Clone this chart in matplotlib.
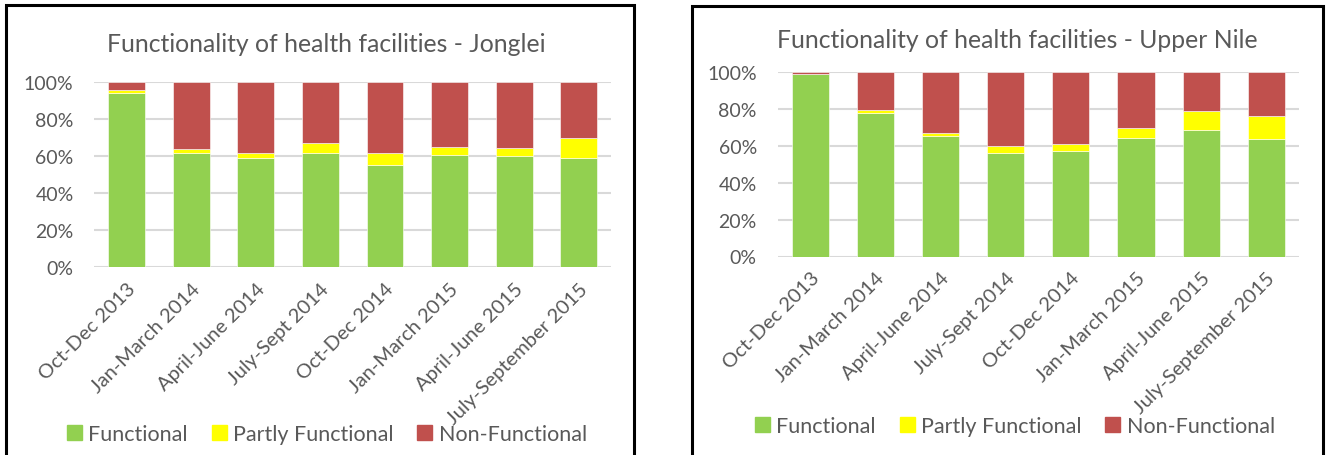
import matplotlib
matplotlib.use("Agg")
import matplotlib.pyplot as plt
from matplotlib.patches import Rectangle, Patch
import numpy as np

plt.rcParams['font.family'] = ['Lato', 'DejaVu Sans']

periods = ["Oct-Dec 2013", "Jan-March 2014", "April-June 2014", "July-Sept 2014",
           "Oct-Dec 2014", "Jan-March 2015", "April-June 2015", "July-September 2015"]

# Jonglei (percent of facilities)
jonglei_functional = [93.9, 61.4, 58.9, 61.4, 55.3, 60.5, 60.1, 58.7]
jonglei_partly = [1.8, 2.2, 2.9, 5.4, 6.1, 4.3, 4.0, 10.8]
jonglei_non = [4.3, 36.4, 38.2, 33.2, 38.6, 35.2, 35.9, 30.5]

# Upper Nile (percent of facilities)
upper_functional = [98.7, 77.7, 65.2, 56.0, 57.1, 64.3, 68.5, 63.6]
upper_partly = [0.0, 1.6, 1.8, 4.0, 3.6, 5.2, 10.2, 12.4]
upper_non = [1.3, 20.7, 33.0, 40.0, 39.3, 30.5, 21.3, 24.0]

series_names = ["Functional", "Partly Functional", "Non-Functional"]
colors = ["#92D050", "#FFFF00", "#C0504D"]
text_grey = "#595959"

W, H = 1326, 456
fig = plt.figure(figsize=(W / 100, H / 100), dpi=100)


def px(x0, y0, x1, y1):
    # pixel box (top-left origin) -> figure fraction rect
    return [x0 / W, 1 - y1 / H, (x1 - x0) / W, (y1 - y0) / H]


def draw_panel(ax, f, p, n, title, title_xy, legend_xy):
    x = np.arange(len(periods))
    f = np.array(f)
    p = np.array(p)
    n = np.array(n)
    for vals, bottom, c, name in [(f, 0, colors[0], series_names[0]),
                                  (p, f, colors[1], series_names[1]),
                                  (n, f + p, colors[2], series_names[2])]:
        ax.bar(x, vals, bottom=bottom, width=0.57, color=c, edgecolor="white",
               linewidth=0.4, label=name, zorder=3)
    ax.set_xlim(-0.5, len(periods) - 0.5)
    ax.set_ylim(0, 100)
    ax.set_yticks(np.arange(0, 101, 20))
    ax.set_yticklabels([f"{v}%" for v in range(0, 101, 20)])
    ax.yaxis.grid(True, color="#D9D9D9", linewidth=1.5, zorder=0)
    ax.set_axisbelow(True)
    for s in ax.spines.values():
        s.set_visible(False)
    ax.tick_params(axis="both", length=0, colors=text_grey)
    ax.tick_params(axis="y", pad=15, labelsize=14)
    ax.set_xticks(x)
    ax.set_xticklabels(periods, rotation=45, ha="right", va="top",
                       rotation_mode="anchor")
    ax.tick_params(axis="x", pad=9, labelsize=14.5)
    fig.text(title_xy[0] / W, 1 - title_xy[1] / H, title, ha="center", va="center",
             fontsize=17.8, color=text_grey)
    handles = [Patch(color=c, label=nm) for c, nm in zip(colors, series_names)]
    fig.legend(handles=handles, loc="center", ncol=3, frameon=False,
               bbox_to_anchor=(legend_xy[0] / W, 1 - legend_xy[1] / H),
               fontsize=15.5, labelcolor=text_grey, handlelength=0.7,
               handleheight=0.7, handletextpad=0.3, columnspacing=1.1)


ax1 = fig.add_axes(px(94.4, 82.7, 611.1, 268.3))
draw_panel(ax1, jonglei_functional, jonglei_partly, jonglei_non,
           "Functionality of health facilities - Jonglei", (326, 45), (327, 435))

ax2 = fig.add_axes(px(777.7, 72.7, 1298.9, 257.5))
draw_panel(ax2, upper_functional, upper_partly, upper_non,
           "Functionality of health facilities - Upper Nile", (1017, 41), (1015, 427))

# panel frames
for x0, y0, x1 in [(6, 6, 634), (692, 7, 1323)]:
    fig.patches.append(Rectangle((x0 / W, -0.05), (x1 - x0) / W, 1.05 - y0 / H,
                                 transform=fig.transFigure, fill=False,
                                 edgecolor="black", linewidth=2.2))

fig.savefig("out.png", dpi=100)
